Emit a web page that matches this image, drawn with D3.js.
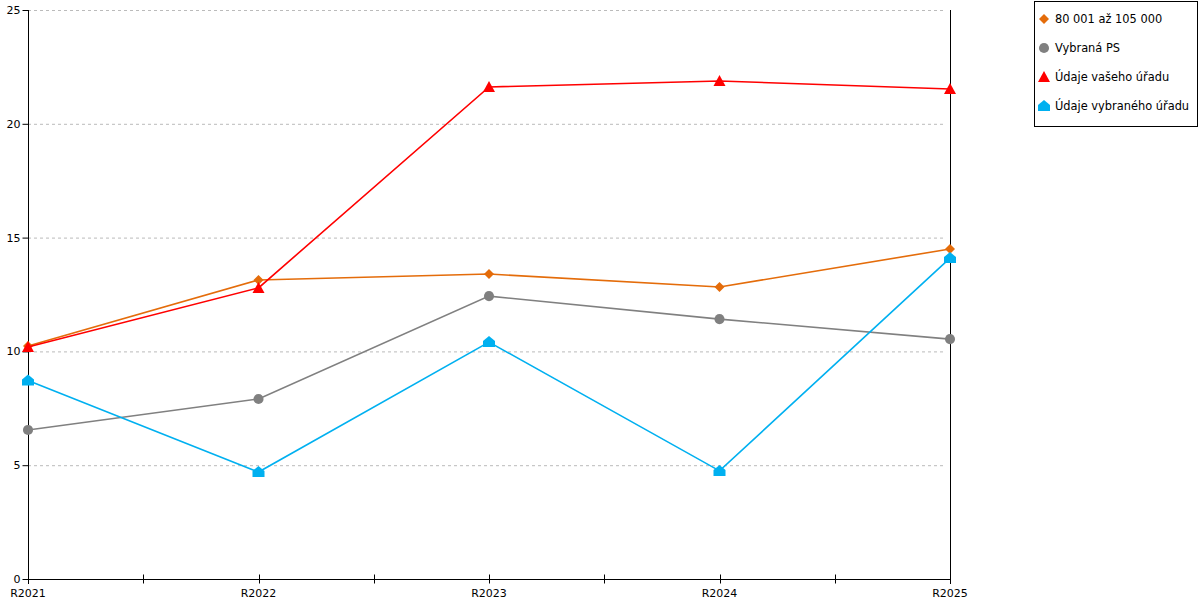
<!DOCTYPE html>
<html>
<head>
<meta charset="utf-8">
<script src="https://cdn.jsdelivr.net/npm/d3@7"></script>
<style>
  body { margin: 0; background: #fff; }
  svg text { font-family: "DejaVu Sans", Verdana, sans-serif; }
</style>
</head>
<body>
<div id="chart"></div>
<script>
// data
const categories = ["R2021", "R2022", "R2023", "R2024", "R2025"];
const yTicks = [0, 5, 10, 15, 20, 25];
const seriesNames = ["80 001 až 105 000", "Vybraná PS", "Údaje vašeho úřadu", "Údaje vybraného úřadu"];
const orangeValues = [10.24, 13.14, 13.40, 12.83, 14.50];
const grayValues = [6.55, 7.91, 12.43, 11.42, 10.54];
const redValues = [10.19, 12.79, 21.62, 21.88, 21.53];
const blueValues = [8.72, 4.70, 10.41, 4.75, 14.10];

const colors = ["#e46c0a", "#808080", "#ff0000", "#00b0f0"];
const shapes = ["diamond", "circle", "triangle", "house"];
const allValues = [orangeValues, grayValues, redValues, blueValues];

const width = 1200, height = 600;
const margin = {top: 10, right: 250, bottom: 21, left: 28};

const svg = d3.select("#chart").append("svg")
    .attr("width", width)
    .attr("height", height);

const x = d3.scalePoint()
    .domain(categories)
    .range([margin.left, width - margin.right]);

const y = d3.scaleLinear()
    .domain([0, 25])
    .range([height - margin.bottom, margin.top]);

// dotted grid lines
svg.append("g")
  .selectAll("line")
  .data(yTicks.filter(d => d > 0))
  .join("line")
    .attr("x1", margin.left)
    .attr("x2", width - margin.right - 4)
    .attr("y1", d => y(d) + 0.5)
    .attr("y2", d => y(d) + 0.5)
    .attr("stroke", "#bbb")
    .attr("stroke-dasharray", "3,3");

// y axis
const yAxis = svg.append("g")
    .attr("transform", `translate(${margin.left + 0.5},0)`)
    .call(d3.axisLeft(y).tickValues(yTicks).tickSize(6).tickSizeOuter(0));
yAxis.select(".domain").attr("stroke", "#000")
    .attr("d", `M0,${margin.top}V${height - margin.bottom + 5}`);
yAxis.selectAll("text").attr("font-size", 11).attr("fill", "#000").attr("x", -8);

// right border line
svg.append("line")
    .attr("x1", width - margin.right + 0.5)
    .attr("x2", width - margin.right + 0.5)
    .attr("y1", margin.top)
    .attr("y2", height - margin.bottom + 5)
    .attr("stroke", "#000");

// x axis
const xBase = height - margin.bottom + 0.5;
svg.append("line")
    .attr("x1", margin.left)
    .attr("x2", width - margin.right)
    .attr("y1", xBase)
    .attr("y2", xBase)
    .attr("stroke", "#000");

// ticks at categories and between them
const step = x.step();
const tickPos = [];
categories.forEach((c, i) => {
  tickPos.push(x(c));
  if (i < categories.length - 1) tickPos.push(x(c) + step / 2);
});
svg.append("g")
  .selectAll("line")
  .data(tickPos)
  .join("line")
    .attr("x1", d => Math.round(d) + 0.5)
    .attr("x2", d => Math.round(d) + 0.5)
    .attr("y1", xBase - 5)
    .attr("y2", xBase + 4)
    .attr("stroke", "#000");

svg.append("g")
  .selectAll("text")
  .data(categories)
  .join("text")
    .attr("x", d => x(d))
    .attr("y", height - 3)
    .attr("text-anchor", "middle")
    .attr("font-size", 11)
    .text(d => d);

// marker paths
function markerPath(shape, s) {
  if (shape === "diamond") return `M0,${-s}L${s},0L0,${s}L${-s},0Z`;
  if (shape === "circle") return d3.symbol(d3.symbolCircle, 80)();
  if (shape === "triangle") return `M0,-6L6,5L-6,5Z`;
  // house: triangle roof on a box
  return `M0,-6L6,-1L6,5L-6,5L-6,-1Z`;
}

const line = d3.line()
    .x((d, i) => x(categories[i]))
    .y(d => y(d));

allValues.forEach((vals, k) => {
  const g = svg.append("g");
  g.append("path")
      .datum(vals)
      .attr("d", line)
      .attr("fill", "none")
      .attr("stroke", colors[k])
      .attr("stroke-width", 1.6);
  g.selectAll("path.m")
    .data(vals)
    .join("path")
      .attr("class", "m")
      .attr("transform", (d, i) => `translate(${x(categories[i])},${y(d)})`)
      .attr("d", markerPath(shapes[k], 5))
      .attr("fill", colors[k]);
});

// legend
const legend = svg.append("g");
legend.append("rect")
    .attr("x", 1034.5)
    .attr("y", 1.5)
    .attr("width", 163)
    .attr("height", 125)
    .attr("fill", "#fff")
    .attr("stroke", "#000");

seriesNames.forEach((name, k) => {
  const ly = 19 + k * 29;
  legend.append("path")
      .attr("transform", `translate(1044,${ly})`)
      .attr("d", markerPath(shapes[k], 5))
      .attr("fill", colors[k]);
  legend.append("text")
      .attr("x", 1055)
      .attr("y", ly + 4)
      .attr("font-size", 11.4)
      .text(name);
});
</script>
</body>
</html>
